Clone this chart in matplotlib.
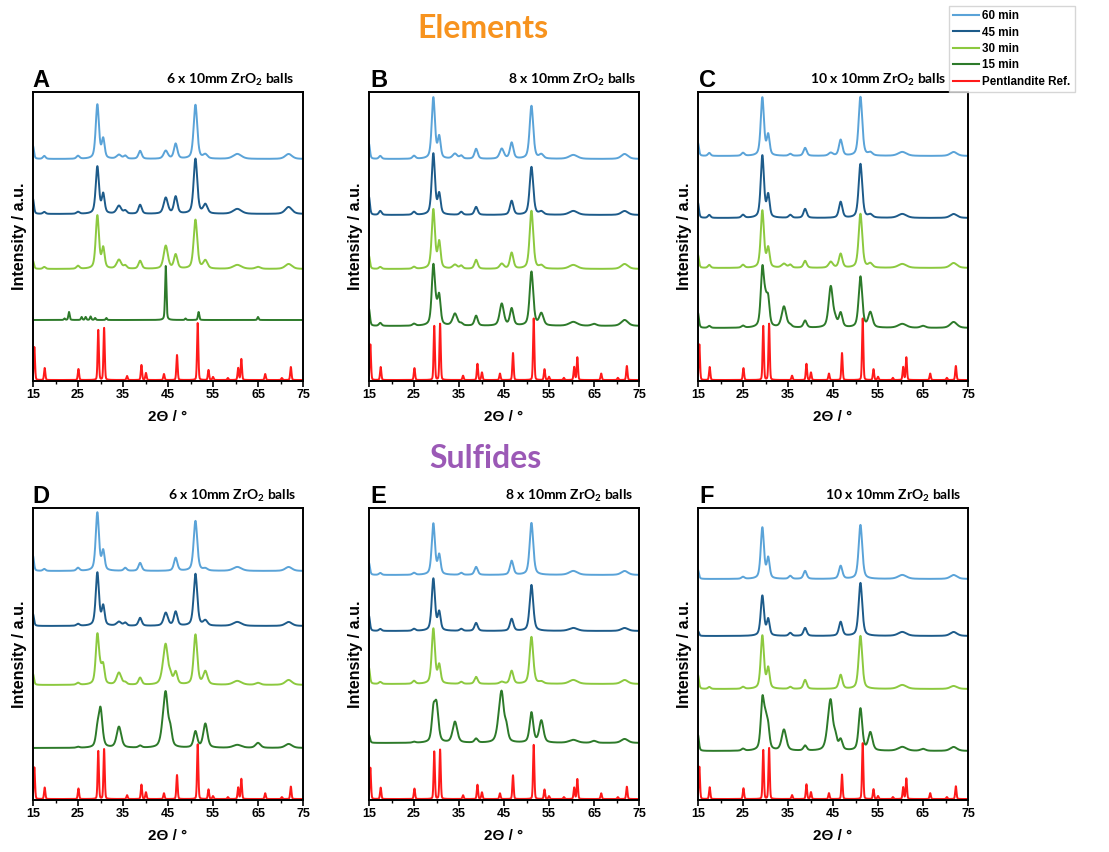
"""XRD patterns of milled elements / sulfides (6 panels, stacked traces)."""

import numpy as np
import matplotlib

matplotlib.use("Agg")
import matplotlib.pyplot as plt
from matplotlib.lines import Line2D

plt.rcParams["font.family"] = ["Liberation Sans", "DejaVu Sans"]
plt.rcParams["mathtext.fontset"] = "custom"
plt.rcParams["mathtext.rm"] = "Lato:bold"
plt.rcParams["mathtext.it"] = "Lato:bold"
plt.rcParams["mathtext.bf"] = "Lato:bold"

# ── data (heights in "px" units above each baseline) ──

PANELS = ["A", "B", "C", "D", "E", "F"]
BALLS = ["6 x 10mm ZrO$_2$ balls", "8 x 10mm ZrO$_2$ balls", "10 x 10mm ZrO$_2$ balls",
         "6 x 10mm ZrO$_2$ balls", "8 x 10mm ZrO$_2$ balls", "10 x 10mm ZrO$_2$ balls"]
SERIES = ["60 min", "45 min", "30 min", "15 min", "Pentlandite Ref."]
COLORS = ["#5aa3d8", "#1d5b8a", "#8cc93f", "#2d7a2a", "#ff1a1a"]

# baselines of [ref, 15, 30, 45, 60 min] per panel
OFFSETS = {
    "A": [1, 61, 112, 167, 222],
    "B": [1, 55, 112, 166, 222],
    "C": [1, 53, 113, 163, 225],
    "D": [1, 52, 115, 174, 229],
    "E": [1, 57, 116, 169, 225],
    "F": [1, 49, 111, 164, 221],
}
REF_SCALE = [1.0, 1.08, 1.08, 0.96, 0.95, 0.98]

# pentlandite reference lines
REF_POS = [15.3, 17.6, 25.1, 29.5, 30.8, 35.9, 39.1, 40.1, 44.1, 47.0,
           51.6, 54.0, 55.0, 58.3, 60.6, 61.3, 66.6, 70.3, 72.3]
REF_HEIGHT = [33, 12, 11, 50, 52, 4, 15, 7, 6, 25, 57, 10, 3, 2, 12, 21, 6, 2, 13]

# milled product peaks (shared positions / widths)
SAMPLE_POS = [15.0, 17.5, 25.0, 29.3, 30.0, 30.6, 34.1, 35.5, 38.8, 43.9,
              44.5, 45.5, 46.7, 51.1, 53.3, 60.4, 65.0, 71.8]
SAMPLE_FWHM = [0.5, 0.7, 0.8, 0.85, 1.0, 0.75, 1.2, 0.8, 0.85, 1.2,
               1.1, 0.9, 0.9, 0.95, 1.1, 2.2, 1.3, 1.8]

A60 = [13, 3, 3, 54, 0, 19, 4, 3, 8, 0, 8, 0, 15, 54, 4, 5, 0, 5]
A45 = [15, 2, 2, 47, 0, 19, 8, 3, 9, 0, 16, 0, 17, 55, 9, 5, 0, 7]
A30 = [8, 2, 3, 53, 0, 20, 9, 3, 8, 0, 23, 0, 14, 49, 8, 4, 2, 5]
B60 = [15, 3, 3, 61, 0, 21, 5, 3, 10, 0, 10, 0, 16, 53, 4, 4, 0, 5]
B45 = [18, 4, 3, 61, 0, 20, 0, 3, 8, 0, 0, 0, 14, 48, 3, 4, 0, 4]
B30 = [13, 2, 2, 59, 0, 26, 4, 3, 9, 0, 5, 0, 16, 58, 3, 4, 0, 5]
B15 = [17, 3, 2, 58, 10, 26, 12, 2, 10, 0, 22, 0, 17, 54, 12, 4, 2, 6]
C60 = [13, 3, 3, 58, 0, 20, 0, 2, 8, 0, 3, 0, 16, 59, 3, 4, 0, 4]
C45 = [15, 3, 3, 62, 0, 22, 0, 3, 9, 0, 0, 0, 16, 54, 3, 4, 0, 4]
C30 = [13, 3, 3, 57, 0, 19, 4, 3, 7, 0, 6, 0, 14, 54, 4, 4, 0, 5]
C15 = [15, 2, 2, 55, 22, 22, 21, 2, 7, 0, 41, 6, 14, 51, 15, 4, 2, 6]
D60 = [15, 2, 3, 58, 0, 19, 0, 3, 8, 0, 0, 0, 13, 50, 2, 4, 0, 4]
D45 = [12, 0, 2, 53, 0, 19, 4, 3, 8, 0, 13, 0, 14, 52, 5, 4, 0, 4]
D30 = [11, 0, 2, 48, 10, 16, 12, 2, 7, 8, 36, 8, 12, 50, 13, 4, 2, 5]
D15 = [0, 0, 1, 14, 38, 0, 21, 0, 2, 14, 48, 16, 0, 16, 24, 3, 5, 4]
E60 = [12, 2, 2, 51, 0, 19, 0, 2, 8, 0, 0, 0, 14, 52, 0, 4, 0, 4]
E45 = [15, 2, 2, 52, 0, 18, 0, 2, 8, 0, 0, 0, 12, 46, 0, 3, 0, 3]
E30 = [16, 2, 3, 55, 0, 18, 0, 2, 7, 0, 2, 0, 13, 47, 2, 4, 0, 4]
E15 = [8, 0, 1, 28, 36, 0, 21, 0, 4, 15, 43, 14, 0, 30, 22, 3, 2, 4]
F60 = [9, 0, 2, 51, 0, 20, 0, 3, 8, 0, 0, 0, 13, 54, 0, 4, 0, 4]
F45 = [5, 0, 0, 40, 0, 16, 0, 3, 8, 0, 0, 0, 14, 53, 0, 4, 0, 4]
F30 = [14, 2, 2, 53, 0, 20, 0, 2, 9, 0, 0, 0, 14, 53, 0, 4, 0, 3]
F15 = [16, 0, 2, 46, 28, 16, 21, 0, 5, 14, 43, 12, 10, 42, 18, 4, 2, 4]

# panel A, 15 min: unreacted elements, sharp lines
A15_POS = [22.0, 23.0, 25.8, 26.7, 27.8, 28.8, 31.3, 44.5, 48.9, 51.8, 65.0]
A15_HEIGHT = [1.5, 8, 3, 3, 3.5, 2, 2, 54, 1.5, 8, 3]

TRACES = {
    "A": [A60, A45, A30, None],
    "B": [B60, B45, B30, B15],
    "C": [C60, C45, C30, C15],
    "D": [D60, D45, D30, D15],
    "E": [E60, E45, E30, E15],
    "F": [F60, F45, F30, F15],
}


def profile(x, pos, height, fwhm, eta):
    """Sum of pseudo-Voigt peaks."""
    y = np.zeros_like(x)
    for p, h, w in zip(pos, height, fwhm):
        if h == 0:
            continue
        d = (x - p) / (w / 2)
        lor = 1 / (1 + d ** 2)
        gau = np.exp(-np.log(2) * d ** 2)
        y += h * (eta * lor + (1 - eta) * gau)
    return y


# ── layout (pixels in the 1109 x 852 reference) ──

W, H = 1109, 852
fig = plt.figure(figsize=(W / 100, H / 100), dpi=100)

COL_X = [33, 369, 698]
ROW_Y = [(92, 381), (508, 800)]
AX_W = 270
LABEL_X = [32, 370, 699]
SUB_RIGHT = [294, 636, 946, 296, 633, 961]

x = np.linspace(15, 75, 3001)

for i, name in enumerate(PANELS):
    r, c = divmod(i, 3)
    top, bot = ROW_Y[r]
    ax = fig.add_axes([COL_X[c] / W, 1 - bot / H, AX_W / W, (bot - top) / H])

    base = OFFSETS[name]
    ref = profile(x, REF_POS, np.array(REF_HEIGHT) * REF_SCALE[i],
                  [0.34] * len(REF_POS), 0.2)
    ax.plot(x, ref + base[0], color=COLORS[4], lw=1.4)

    traces = TRACES[name]
    # draw 15, 30, 45, 60 min from bottom up
    for k, offset in zip([3, 2, 1, 0], base[1:]):
        if traces[k] is None:
            y = profile(x, A15_POS, A15_HEIGHT, [0.35] * len(A15_POS), 0.4)
        else:
            y = profile(x, SAMPLE_POS, traces[k], SAMPLE_FWHM, 0.5)
        ax.plot(x, y + offset, color=COLORS[k], lw=1.4)

    ax.set_xlim(15, 75)
    ax.set_ylim(0, bot - top)
    ax.set_yticks([])
    ax.set_xticks(range(15, 76, 10))
    ax.set_xticks(range(20, 75, 10), minor=True)
    ax.tick_params(axis="x", which="major", direction="out", length=4, width=1.2,
                   labelsize=9, pad=2)
    ax.tick_params(axis="x", which="minor", direction="out", length=2.5, width=1.0)
    for lab in ax.get_xticklabels():
        lab.set_fontweight("bold")
    for s in ax.spines.values():
        s.set_linewidth(1.4)

    ax.set_xlabel("2\u0398 / \u00b0", fontsize=11, fontweight="bold", labelpad=6)
    ax.set_ylabel("Intensity / a.u.", fontsize=11.5, fontweight="bold", labelpad=4)

    fig.text(LABEL_X[c] / W, 1 - (top - 5) / H, name, fontsize=17, fontweight="bold",
             ha="left", va="baseline")
    fig.text(SUB_RIGHT[i] / W, 1 - (top - 8) / H, BALLS[i], fontsize=10,
             fontweight="bold", family="Lato", ha="right", va="baseline")

fig.text(483 / W, 1 - 29 / H, "Elements", fontsize=23, fontweight="bold",
         family="Lato", color="#f7931e", ha="center", va="center")
fig.text(485 / W, 1 - 459 / H, "Sulfides", fontsize=23, fontweight="bold",
         family="Lato", color="#9b59b6", ha="center", va="center")

handles = [Line2D([], [], color=col, lw=1.5) for col in COLORS]
leg = fig.legend(handles, SERIES, loc="upper left",
                 bbox_to_anchor=(949 / W, 1 - 6 / H), frameon=True, fancybox=False,
                 edgecolor="#cccccc", borderaxespad=0, handlelength=2.2,
                 handletextpad=0.3, labelspacing=0.38, borderpad=0.35,
                 prop={"weight": "bold", "size": 8.4})
leg.get_frame().set_linewidth(1.0)

fig.savefig("out.png", dpi=100)
